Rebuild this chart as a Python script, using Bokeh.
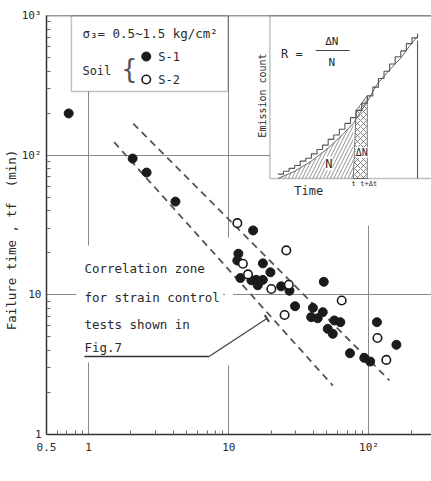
import math
from bokeh.plotting import figure
from bokeh.models import (Range1d, LinearScale, FixedTicker, Label, BoxAnnotation,
                          Span, Arrow, TeeHead)
from bokeh.embed import file_html
from bokeh.resources import INLINE

# ---------------- data ----------------
s1_rate = [0.72, 2.06, 2.59, 4.16, 14.9, 11.7, 11.5, 17.5, 19.8, 12.1, 14.5, 15.7,
           17.5, 16.1, 23.6, 27.1, 47.6, 29.7, 39.8, 46.8, 38.7, 43.1, 56.6, 62.5,
           50.8, 55.2, 73.2, 92.6, 102, 114, 157]
s1_time = [199, 94.6, 75.1, 46.5, 28.9, 19.7, 17.6, 16.8, 14.5, 13.2, 12.7, 12.8,
           12.8, 11.7, 11.5, 10.7, 12.4, 8.29, 8.07, 7.51, 6.92, 6.80, 6.55, 6.37,
           5.71, 5.26, 3.82, 3.54, 3.33, 6.37, 4.39]
s2_rate = [11.5, 25.7, 12.6, 13.7, 20.1, 26.8, 63.9, 25.0, 115, 133]
s2_time = [32.6, 20.8, 16.7, 14.0, 11.0, 11.8, 9.10, 7.17, 4.91, 3.42]

zone_lower_rate = [1.52, 55.2]
zone_lower_time = [124, 2.24]
zone_upper_rate = [2.08, 140]
zone_upper_time = [168, 2.44]

x_ticks = [0.5, 1, 10, 100]
x_tick_labels = ["0.5", "1", "10", "10²"]
y_ticks = [1, 10, 100, 1000]
y_tick_labels = ["1", "10", "10²", "10³"]

# inset schematic (normalised time / emission count)
inset_smooth_time = [0.00, 0.12, 0.24, 0.36, 0.47, 0.54, 0.64, 0.71, 0.81, 0.88, 0.94, 1.00]
inset_smooth_count = [0.00, 0.05, 0.12, 0.21, 0.31, 0.38, 0.53, 0.65, 0.76, 0.83, 0.91, 0.98]
inset_step_time = [0.00, 0.04, 0.08, 0.12, 0.16, 0.20, 0.24, 0.28, 0.32, 0.36, 0.40,
                   0.44, 0.48, 0.52, 0.56, 0.60, 0.64, 0.68, 0.72, 0.76, 0.80, 0.84,
                   0.88, 0.92, 0.96, 1.00]
inset_step_count = [0.03, 0.05, 0.07, 0.09, 0.12, 0.14, 0.17, 0.20, 0.23, 0.27, 0.30,
                    0.34, 0.38, 0.42, 0.47, 0.52, 0.57, 0.63, 0.69, 0.74, 0.79, 0.84,
                    0.88, 0.93, 0.97, 1.00]
inset_t = 0.54
inset_t_dt = 0.64

# ---------------- layout constants (pixels) ----------------
W, H = 431, 481
FL, FR, FT, FB = 45, 431, 15, 434          # frame edges
IX_ORIG, IX_SPAN = 277, 140                 # inset local time axis
IY_ORIG, IY_SPAN = 178, 145                 # inset local count axis

def fx(px):
    return (px - FL) / (FR - FL)

def fy(py):
    return (FB - py) / (FB - FT)

def ix(px):
    return (px - IX_ORIG) / IX_SPAN

def iy(py):
    return (IY_ORIG - py) / IY_SPAN

TXT = "#2a2a2a"
FONT = "DejaVu Sans Mono"
NB = "\u00a0"

p = figure(width=W, height=H, x_axis_type="log", y_axis_type="log",
           x_range=Range1d(0.5, 0.5 * 10 ** ((FR - FL) / 140.5)),
           y_range=Range1d(1, 1000),
           output_backend="svg", toolbar_location=None,
           min_border_left=FL, min_border_right=W - FR,
           min_border_top=FT, min_border_bottom=H - FB)
p.outline_line_color = None
p.background_fill_color = "white"
p.border_fill_color = "white"

p.extra_x_ranges = {"fx": Range1d(0, 1), "ix": Range1d(ix(FL), ix(FR))}
p.extra_y_ranges = {"fy": Range1d(0, 1), "iy": Range1d(iy(FB), iy(FT))}
p.extra_x_scales = {"fx": LinearScale(), "ix": LinearScale()}
p.extra_y_scales = {"fy": LinearScale(), "iy": LinearScale()}

# ---------------- axes ----------------
x_minor = [0.6, 0.7, 0.8, 0.9] + [k for k in range(2, 10)] + [10 * k for k in range(2, 10)] + [200]
y_minor = [m * d for d in (1, 10, 100) for m in range(2, 10)]
p.xaxis.ticker = FixedTicker(ticks=x_ticks, minor_ticks=x_minor)
p.yaxis.ticker = FixedTicker(ticks=y_ticks, minor_ticks=y_minor)
p.xaxis.major_label_overrides = {t: l for t, l in zip(x_ticks, x_tick_labels)}
p.yaxis.major_label_overrides = {t: l for t, l in zip(y_ticks, y_tick_labels)}
for ax in (p.xaxis[0], p.yaxis[0]):
    ax.axis_line_color = "#333333"
    ax.axis_line_width = 1.5
    ax.major_tick_in = 0
    ax.major_tick_out = 0
    ax.major_tick_line_color = "#555555"
    ax.minor_tick_in = 4
    ax.minor_tick_out = 0
    ax.minor_tick_line_color = "#666666"
    ax.major_label_text_font = FONT
    ax.major_label_text_font_size = "11px"
    ax.major_label_text_color = TXT
p.xaxis.major_label_standoff = 6
p.yaxis.major_label_standoff = 5
p.xaxis.axis_label = None
p.yaxis.axis_label = "Failure" + NB + "time" + NB + "," + NB + "tf" + NB * 2 + "(min)" + NB * 4
p.yaxis.axis_label_text_font = FONT
p.yaxis.axis_label_text_font_size = "12.5px"
p.yaxis.axis_label_text_font_style = "normal"
p.yaxis.axis_label_text_color = TXT
p.yaxis.axis_label_standoff = 0

p.xgrid.ticker = FixedTicker(ticks=[1, 10, 100])
p.ygrid.ticker = FixedTicker(ticks=[10, 100])
p.grid.grid_line_color = "#8a8a8a"
p.grid.grid_line_width = 1

p.add_layout(Span(location=1000, dimension="width", line_color="#333333", line_width=1.5))

# ---------------- white masks / boxes ----------------
def mask(l, r, t, b):
    p.add_layout(BoxAnnotation(left=fx(l), right=fx(r), bottom=fy(b), top=fy(t),
                               x_range_name="fx", y_range_name="fy", fill_color="white",
                               fill_alpha=1, line_color=None, level="underlay"))

mask(75, 222, 245, 362)     # behind the note text
mask(224, 232, 237, 365)    # gap in the R = 10 line
mask(364, 372, 178, 225)    # gap in the R = 100 line

p.add_layout(BoxAnnotation(left=fx(70), right=fx(227), bottom=fy(91), top=1.0,
                           x_range_name="fx", y_range_name="fy", fill_color="white",
                           fill_alpha=1, line_color="#333333", line_width=1.5,
                           level="underlay"))
p.add_layout(BoxAnnotation(left=ix(269), right=ix(FR + 10), bottom=0, top=iy(FT),
                           x_range_name="ix", y_range_name="iy", fill_color="white",
                           fill_alpha=1, line_color="#333333", line_width=1.5,
                           level="underlay"))

# ---------------- main data ----------------
p.line(zone_lower_rate, zone_lower_time, line_color="#555555", line_width=1.8, line_dash="7 5")
p.line(zone_upper_rate, zone_upper_time, line_color="#555555", line_width=1.8, line_dash="7 5")
p.scatter(s1_rate, s1_time, marker="circle", size=9, fill_color="#1b1b1b", line_color="#1b1b1b")
p.scatter(s2_rate, s2_time, marker="circle", size=8.5, fill_color="white", line_color="#1b1b1b",
          line_width=1.6)

# ---------------- labels ----------------
def lab(x, y, text, size="12.5px", align="left", rng=("fx", "fy"), angle=0.0, color=TXT,
        bg=None):
    kw = dict(x=x, y=y, text=text, x_range_name=rng[0], y_range_name=rng[1],
              text_font=FONT, text_font_size=size, text_align=align,
              text_baseline="middle", text_color=color, angle=angle)
    if bg:
        kw["background_fill_color"] = bg
    p.add_layout(Label(**kw))

# legend
lab(fx(81), fy(33), "σ₃=" + NB + "0.5~1.5" + NB + "kg/cm²", size="12.5px")
lab(fx(81), fy(70), "Soil", size="12px")
lab(fx(128), fy(68), "{", size="26px", align="center", color="#555555")
p.scatter([fx(145)], [fy(56)], x_range_name="fx", y_range_name="fy", marker="circle", size=9,
          fill_color="#1b1b1b", line_color="#1b1b1b")
p.scatter([fx(145)], [fy(79)], x_range_name="fx", y_range_name="fy", marker="circle", size=8.5,
          fill_color="white", line_color="#1b1b1b", line_width=1.6)
lab(fx(157), fy(56), "S-1", size="12px")
lab(fx(157), fy(79), "S-2", size="12px")

# correlation zone note
lab(fx(83), fy(268), "Correlation zone")
lab(fx(83), fy(297), "for strain control")
lab(fx(83), fy(324), "tests shown in")
lab(fx(83), fy(347), "Fig.7")
p.segment(x0=[fx(83)], y0=[fy(356)], x1=[fx(208)], y1=[fy(356)], x_range_name="fx",
          y_range_name="fy", line_color="#333333", line_width=1.5)
p.add_layout(Arrow(x_start=fx(208), y_start=fy(356), x_end=fx(266), y_end=fy(318),
                   x_range_name="fx", y_range_name="fy", line_color="#444444",
                   line_width=1.3, end=TeeHead(size=8, line_color="#444444", line_width=2)))

# x axis title
lab(fx(265), fy(468), "Emission" + NB + "rate," + NB + "R" + NB * 2 + "(%)", align="center")

# ---------------- inset ----------------
n_poly_t = [t for t in inset_smooth_time if t <= inset_t]
n_poly_c = [c for t, c in zip(inset_smooth_time, inset_smooth_count) if t <= inset_t]
p.patch(n_poly_t + [inset_t, 0], n_poly_c + [0, 0], x_range_name="ix", y_range_name="iy",
        fill_alpha=0, line_color=None, hatch_pattern="/", hatch_color="#777777",
        hatch_scale=7, hatch_weight=0.8)
d_t = [t for t in inset_step_time if inset_t <= t <= inset_t_dt]
d_c = [c for t, c in zip(inset_step_time, inset_step_count) if inset_t <= t <= inset_t_dt]
p.patch([inset_t] + d_t + [inset_t_dt, inset_t_dt, inset_t], [0] + d_c + [d_c[-1], 0, 0],
        x_range_name="ix", y_range_name="iy", fill_alpha=0, line_color="#555555",
        line_width=0.8, hatch_pattern="x", hatch_color="#666666", hatch_scale=6,
        hatch_weight=0.8)
p.line(inset_smooth_time, inset_smooth_count, x_range_name="ix", y_range_name="iy",
       line_color="#666666", line_width=1)
p.step(inset_step_time, inset_step_count, mode="after", x_range_name="ix", y_range_name="iy",
       line_color="#555555", line_width=1.1)
p.segment(x0=[1.0], y0=[0.0], x1=[1.0], y1=[inset_step_count[-1] - 0.05], x_range_name="ix",
          y_range_name="iy", line_color="#555555", line_width=1.1)

lab(ix(262), iy(95), "Emission" + NB + "count", size="10px", align="center", rng=("ix", "iy"),
    angle=math.pi / 2)
lab(ix(291), iy(53), "R" + NB + "=", size="12px", align="center", rng=("ix", "iy"))
lab(ix(331), iy(41), "ΔN", size="11px", align="center", rng=("ix", "iy"))
p.segment(x0=[ix(315)], y0=[iy(50)], x1=[ix(349)], y1=[iy(50)], x_range_name="ix",
          y_range_name="iy", line_color="#444444", line_width=1)
lab(ix(331), iy(62), "N", size="11px", align="center", rng=("ix", "iy"))
lab(ix(328), iy(163), "N", size="12px", align="center", rng=("ix", "iy"), bg="white")
lab(ix(361), iy(152), "ΔN", size="10px", align="center", rng=("ix", "iy"), bg="white")
lab(ix(308), iy(190), "Time", size="12px", align="center", rng=("ix", "iy"))
lab(ix(353), iy(183), "t", size="7px", align="center", rng=("ix", "iy"))
lab(ix(368), iy(183), "t+Δt", size="7px", align="center", rng=("ix", "iy"))

open("out.html", "w").write(file_html(p, INLINE))
